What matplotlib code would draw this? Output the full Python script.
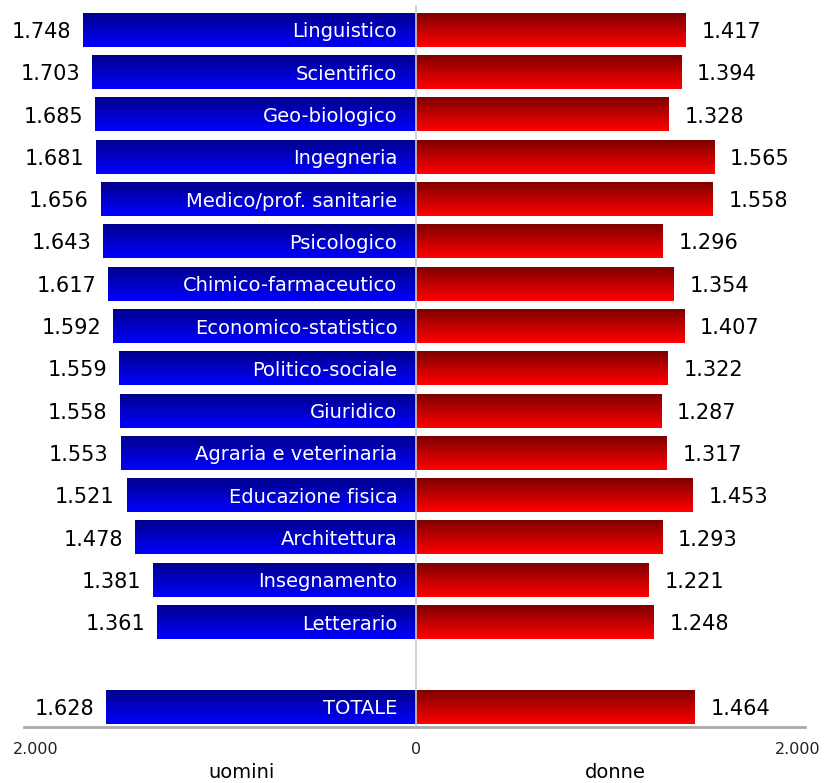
import numpy as np
import matplotlib
matplotlib.use("Agg")
import matplotlib.pyplot as plt

categorie = ["Linguistico", "Scientifico", "Geo-biologico", "Ingegneria",
             "Medico/prof. sanitarie", "Psicologico", "Chimico-farmaceutico",
             "Economico-statistico", "Politico-sociale", "Giuridico",
             "Agraria e veterinaria", "Educazione fisica", "Architettura",
             "Insegnamento", "Letterario", "TOTALE"]
uomini = [1748, 1703, 1685, 1681, 1656, 1643, 1617, 1592, 1559, 1558,
          1553, 1521, 1478, 1381, 1361, 1628]
donne = [1417, 1394, 1328, 1565, 1558, 1296, 1354, 1407, 1322, 1287,
         1317, 1453, 1293, 1221, 1248, 1464]

def fmt(v):
    return f"{v:,}".replace(",", ".")

def gradient(top, bottom, n=64):
    t = np.linspace(0, 1, n)[:, None]
    return (np.array(top)[None, :] * (1 - t) + np.array(bottom)[None, :] * t)[:, None, :]

blu = gradient((0.0, 0.0, 0.55), (0.0, 0.0, 1.0))
rosso = gradient((0.50, 0.0, 0.0), (1.0, 0.0, 0.0))

fig = plt.figure(figsize=(8.26, 7.83), dpi=100)
ax = fig.add_axes([24 / 826, 56 / 783, 781 / 826, 722 / 783])

ypos = list(range(15)) + [16]
h = 0.8
for y, cat, u, d in zip(ypos, categorie, uomini, donne):
    ax.barh(y, -u, height=h, color="#0000c0", linewidth=0)
    ax.barh(y, d, height=h, color="#c00000", linewidth=0)
    ax.imshow(blu, extent=(-u, 0, y + h / 2, y - h / 2), origin="upper", aspect="auto", zorder=2)
    ax.imshow(rosso, extent=(0, d, y + h / 2, y - h / 2), origin="upper", aspect="auto", zorder=2)
    ax.text(-100, y, cat, color="white", ha="right", va="center_baseline", fontsize=14, zorder=3)
    ax.text(-u - 63, y, fmt(u), color="black", ha="right", va="center_baseline", fontsize=15, zorder=3)
    ax.text(d + 80, y, fmt(d), color="black", ha="left", va="center_baseline", fontsize=15, zorder=3)

ax.axvline(0, color="#cccccc", lw=1.2, zorder=4)
ax.set_xlim(-2060, 2040)
ax.set_ylim(16.48, -0.59)
for s in ["top", "left", "right"]:
    ax.spines[s].set_visible(False)
ax.spines["bottom"].set_color("#aaaaaa")
ax.spines["bottom"].set_linewidth(2)
ax.set_yticks([])
ax.set_xticks([-2000, 0, 2000])
ax.set_xticklabels(["2.000", "0", "2.000"], fontsize=11.5, color="#222222")
ax.tick_params(axis="x", length=0, pad=11)

fig.text(242 / 826, 1 - 772 / 783, "uomini", ha="center", va="center", fontsize=14,
         color="black")
fig.text(615 / 826, 1 - 772 / 783, "donne", ha="center", va="center", fontsize=14,
         color="black")

fig.savefig("out.png", dpi=100)
